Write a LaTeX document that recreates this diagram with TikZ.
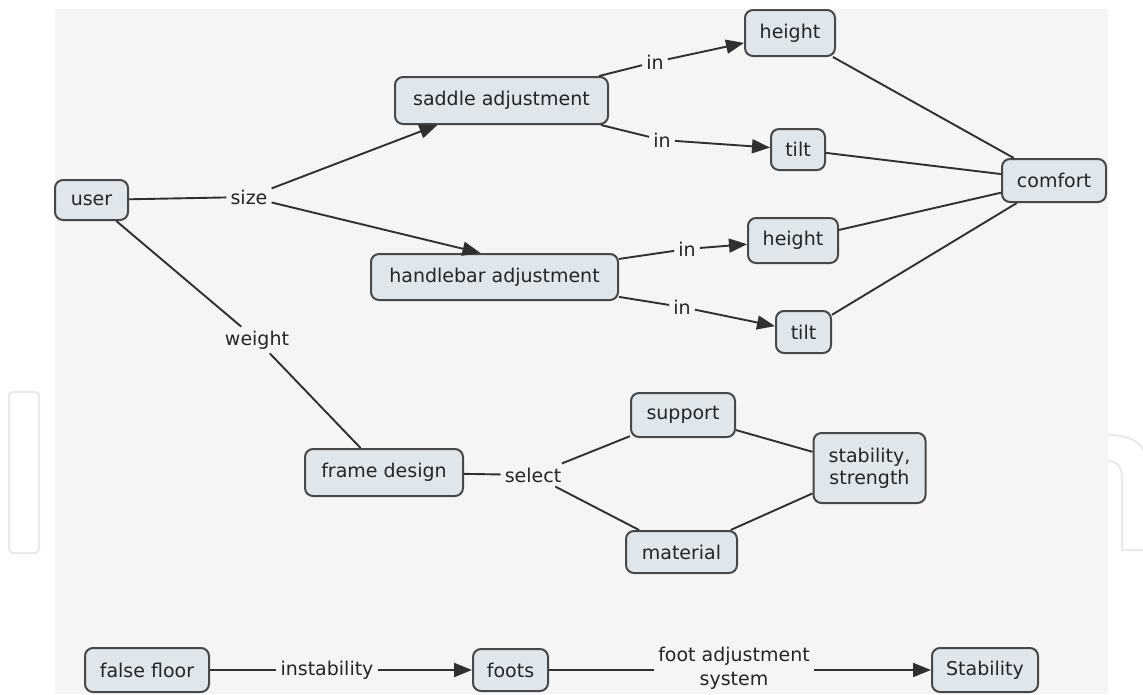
\documentclass[tikz,border=0pt]{standalone}
\usepackage{fontspec}
\setmainfont{DejaVu Sans}
\usetikzlibrary{arrows.meta}
\definecolor{bggray}{HTML}{F5F5F5}
\definecolor{nodefill}{HTML}{DFE6EC}
\definecolor{nodedraw}{HTML}{484848}
\definecolor{txt}{HTML}{252525}
\definecolor{linkcol}{HTML}{303030}
\definecolor{wmline}{HTML}{EAEAEA}
\begin{document}
\begin{tikzpicture}[x=1pt,y=-1pt,
  concept/.style={draw=nodedraw, fill=nodefill, line width=2pt, rounded corners=8pt,
    text=txt, font=\fontsize{19}{22}\selectfont, inner sep=0pt, align=center},
  sz/.style 2 args={minimum width=#1pt, minimum height=#2pt},
  lbl/.style={text=txt, font=\fontsize{19}{24}\selectfont, inner sep=4pt, align=center},
  link/.style={draw=linkcol, line width=1.9pt},
  arr/.style={link, -{Triangle[length=18pt,width=14pt]}},
  wm/.style={draw=wmline, line width=2pt}
]
% canvas
\useasboundingbox (0,0) rectangle (1143,694);
\fill[white] (0,0) rectangle (1143,694);
% watermark fragments
\draw[wm, rounded corners=4pt] (9,392) rectangle (39,553);
\fill[bggray] (55,9) rectangle (1108,694);
\draw[wm] (1108,435) .. controls (1128,435) and (1140,442) .. (1143,450);
\draw[wm] (1108,461) .. controls (1117,461) and (1122,467) .. (1122,478) -- (1122,550) -- (1143,550);

% concept nodes
\node[concept, sz={73}{40}]   (user)     at (91.5,200)  {user};
\node[concept, sz={213}{47}]  (saddle)   at (501.5,100.5) {saddle adjustment};
\node[concept, sz={90}{46}]   (h1)       at (790,33)    {height};
\node[concept, sz={54}{41}]   (t1)       at (798,149.5) {tilt};
\node[concept, sz={104}{43}]  (comfort)  at (1054,180.5) {comfort};
\node[concept, sz={247}{46}]  (hb)       at (494.5,277) {handlebar adjustment};
\node[concept, sz={90}{45}]   (h2)       at (793,240.5) {height};
\node[concept, sz={55}{42}]   (t2)       at (803.5,332)  {tilt};
\node[concept, sz={158}{47}]  (frame)    at (384,472.5) {frame design};
\node[concept, sz={104}{44}]  (support)  at (683,415)   {support};
\node[concept, sz={111}{42}]  (material) at (681.5,552) {material};
\node[concept, sz={112}{70}]  (ss)       at (869.5,468) {stability,\\strength};
\node[concept, sz={124}{44}]  (ff)       at (147,670)   {false floor};
\node[concept, sz={75}{42}]   (foots)    at (510.5,670) {foots};
\node[concept, sz={106}{44}]  (stab)     at (985,670)   {Stability};

% link labels
\node[lbl] (size)   at (249,197) {size};
\node[lbl] (in1)    at (655,62)  {in};
\node[lbl] (in2)    at (662,140) {in};
\node[lbl] (in3)    at (687,249) {in};
\node[lbl] (in4)    at (682,307) {in};
\node[lbl] (weight) at (257,340) {weight};
\node[lbl] (select) at (533,475) {select};
\node[lbl] (instab) at (327,670) {instability};
\node[lbl] (fas)    at (734,668) {foot adjustment\\system};

% connectors
\draw[link] (user) -- (size);
\draw[arr]  (size) -- (saddle);
\draw[arr]  (size) -- ([xshift=-14pt]hb.north);
\draw[link] (saddle) -- (in1);
\draw[arr]  (in1) -- (h1);
\draw[link] (saddle) -- (in2);
\draw[arr]  (in2) -- (t1);
\draw[link] (hb) -- (in3);
\draw[arr]  (in3) -- (h2);
\draw[link] (hb) -- (in4);
\draw[arr]  (in4) -- (t2);
\draw[link] (h1) -- (comfort);
\draw[link] (t1) -- (comfort);
\draw[link] (h2) -- (comfort);
\draw[link] (t2) -- (comfort);
\draw[link] (user) -- (weight);
\draw[link] (weight) -- (frame);
\draw[link] (frame) -- (select);
\draw[link] (select) -- (support);
\draw[link] (select) -- (material);
\draw[link] (support) -- (ss);
\draw[link] (material) -- (ss);
\draw[link] (ff) -- (instab);
\draw[arr]  (instab) -- (foots);
\draw[link] (foots.east) -- (foots.east -| fas.west);
\draw[arr]  (stab.west -| fas.east) -- (stab.west);
\end{tikzpicture}
\end{document}
